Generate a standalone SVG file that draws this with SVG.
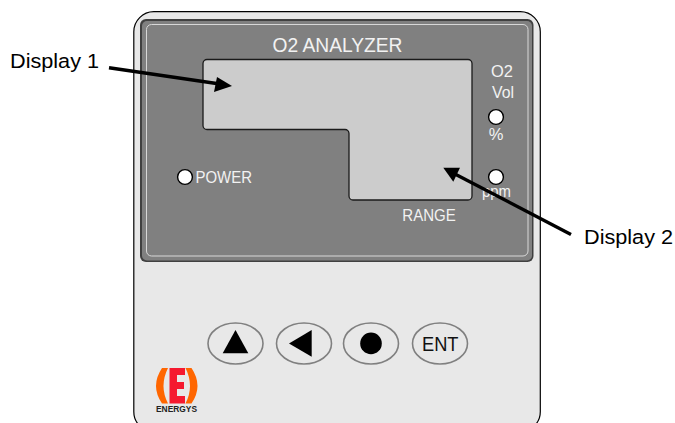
<svg xmlns="http://www.w3.org/2000/svg" width="675" height="423" viewBox="0 0 675 423">
<style>
.p{font-family:"Liberation Sans",Arial,sans-serif;font-size:16.500px;fill:#f2f2f2}
.c{font-family:"Liberation Sans",Arial,sans-serif;font-size:20.500px;fill:#000}
.led{fill:#fff;stroke:#000;stroke-width:1.4}
.btn{fill:#e8e8e8;stroke:#808080;stroke-width:1.6}
.arr{stroke:#000;stroke-width:3.4;fill:none}
</style>
<rect width="675" height="423" fill="#fff"/>
<g id="body">
<rect x="133.800" y="11.700" width="406.500" height="420" rx="20" fill="#e8e8e8" stroke="#000" stroke-width="1.200"/>
</g>
<g id="panel">
<rect x="140" y="19" width="393.500" height="243" rx="6" fill="#404040"/>
<rect x="142" y="21" width="390" height="239.500" rx="5" fill="#808080"/>
<rect x="146.500" y="24.500" width="381.500" height="231.500" rx="5" fill="none" stroke="#d8d8d8" stroke-width="1"/>
<text x="272.500" y="51.500" class="p" style="font-size:19.500px" textLength="130" lengthAdjust="spacingAndGlyphs">O2 ANALYZER</text>
<text x="491" y="76.500" class="p" textLength="22" lengthAdjust="spacingAndGlyphs">O2</text>
<text x="492" y="97.500" class="p" textLength="22" lengthAdjust="spacingAndGlyphs">Vol</text>
<text x="496" y="140" text-anchor="middle" class="p">%</text>
<text x="482" y="197" class="p" textLength="29" lengthAdjust="spacingAndGlyphs">ppm</text>
<text x="402.300" y="220.500" class="p" textLength="53.500" lengthAdjust="spacingAndGlyphs">RANGE</text>
<text x="195.500" y="182.500" class="p" textLength="56.500" lengthAdjust="spacingAndGlyphs">POWER</text>
</g>
<g id="display">
<path d="M207 59.500H468a4 4 0 0 1 4 4V196a4 4 0 0 1-4 4H353a4 4 0 0 1-4-4V133.500a4 4 0 0 0-4-4H207a4 4 0 0 1-4-4V63.500a4 4 0 0 1 4-4Z" fill="#cccccc" stroke="#1a1a1a" stroke-width="1.300"/>
</g>
<g id="leds">
<circle class="led" cx="496" cy="117" r="7.400"/>
<circle class="led" cx="496" cy="177" r="7.400"/>
<circle class="led" cx="185" cy="177" r="7.400"/>
</g>
<g id="buttons">
<g id="btn-up"><ellipse class="btn" cx="235.500" cy="343.500" rx="27.500" ry="20.500"/><path d="M235.500 330L248.300 353.300H222.700Z" fill="#000"/></g>
<g id="btn-left"><ellipse class="btn" cx="304" cy="343.500" rx="27.500" ry="20.500"/><path d="M289 343.500L311.700 330V356.700Z" fill="#000"/></g>
<g id="btn-ok"><ellipse class="btn" cx="371" cy="343.500" rx="27.500" ry="20.500"/><circle cx="371" cy="343.400" r="10.800" fill="#000"/></g>
<g id="btn-ent"><ellipse class="btn" cx="440" cy="343.500" rx="27.500" ry="20.500"/><text x="422" y="350.700" font-family="Liberation Sans,sans-serif" font-size="20.500" textLength="36.500" lengthAdjust="spacingAndGlyphs" fill="#111">ENT</text></g>
</g>
<g id="logo">
<path d="M162 368Q150 386 162 403.500L168 403.500Q159 386 168 368Z" fill="#ff6600"/>
<path d="M191.500 368Q203.500 386 191.500 403.500L185.500 403.500Q194.500 386 185.500 368Z" fill="#ff6600"/>
<path d="M169.500 368H185V375H177V382H184V389H177V396H185V403.500H169.500Z" fill="#f5192f"/>
<text x="156" y="412" font-family="Liberation Sans,sans-serif" font-size="9.500" font-weight="bold" textLength="41" lengthAdjust="spacingAndGlyphs" fill="#222">ENERGYS</text>
</g>
<g id="connectors">
<path class="arr" d="M109 67.700L220 84"/>
<path d="M232 86L214 92L217 77Z" fill="#000"/>
<path class="arr" d="M571 234.500L453 173"/>
<path d="M443.300 167.700L460 167.700L453.300 181.700Z" fill="#000"/>
</g>
<g id="labels">
<text x="10" y="68" class="c" textLength="89" lengthAdjust="spacingAndGlyphs">Display 1</text>
<text x="584" y="244" class="c" textLength="89" lengthAdjust="spacingAndGlyphs">Display 2</text>
</g>
</svg>
